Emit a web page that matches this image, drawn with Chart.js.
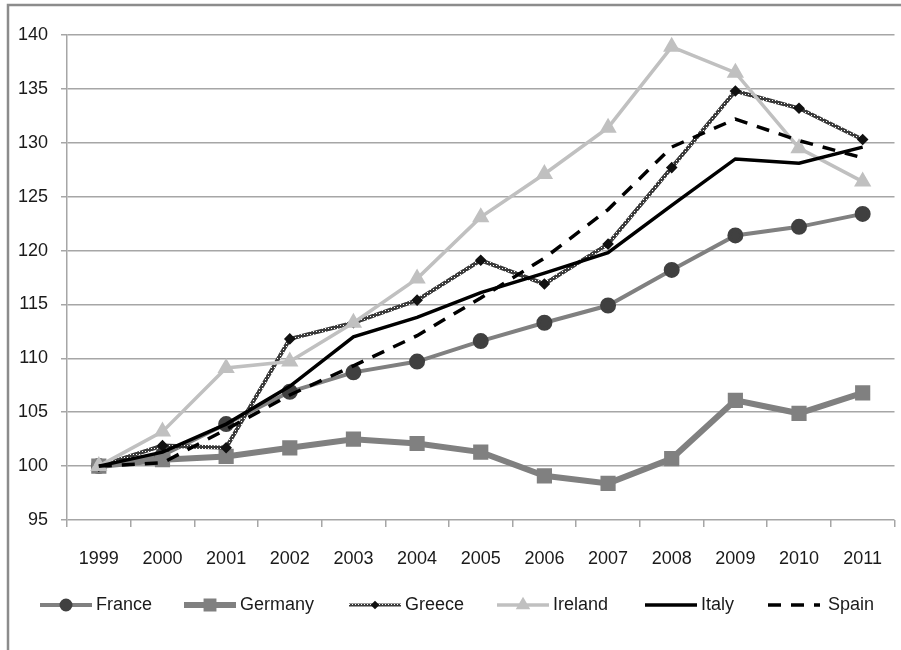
<!DOCTYPE html>
<html>
<head>
<meta charset="utf-8">
<script src="https://cdn.jsdelivr.net/npm/chart.js@4/dist/chart.umd.min.js"></script>
<style>
    html, body { margin: 0; padding: 0; background: #ffffff; overflow: hidden; }
    #wrap { width: 901px; height: 650px; position: relative; overflow: hidden; }
</style>
</head>
<body>
<div id="wrap"><canvas id="gdpChart" width="907" height="650"></canvas></div>
<script>
const years = ['1999', '2000', '2001', '2002', '2003', '2004', '2005', '2006', '2007', '2008', '2009', '2010', '2011'];
const france = [100, 101.0, 103.9, 106.9, 108.7, 109.7, 111.6, 113.3, 114.9, 118.2, 121.4, 122.2, 123.4];
const germany = [100, 100.6, 100.9, 101.7, 102.5, 102.1, 101.3, 99.1, 98.4, 100.7, 106.1, 104.9, 106.8];
const greece = [100, 101.9, 101.7, 111.8, 113.3, 115.4, 119.1, 116.9, 120.6, 127.7, 134.8, 133.2, 130.3];
const ireland = [100, 103.2, 109.1, 109.7, 113.3, 117.4, 123.1, 127.1, 131.4, 138.9, 136.5, 129.5, 126.4];
const italy = [100, 101.3, 103.9, 107.4, 112.0, 113.8, 116.1, 117.9, 119.8, 124.2, 128.5, 128.1, 129.6];
const spain = [100, 100.3, 103.4, 106.6, 109.3, 112.1, 115.6, 119.3, 123.8, 129.6, 132.2, 130.2, 128.6];
const yTicks = { min: 95, max: 140, step: 5 };

const fontFamily = "'Liberation Sans', Arial, sans-serif";
const gridColor = '#a6a6a6';
const legendStarts = [40, 184, 349, 497, 645, 768];

// dotted texture for Greece line
function makeDotPattern() {
    const c = document.createElement('canvas');
    c.width = 3; c.height = 3;
    const g = c.getContext('2d');
    g.fillStyle = '#3a3a3a';
    g.fillRect(0, 0, 3, 3);
    g.fillStyle = '#ffffff';
    g.fillRect(1, 1, 1, 1);
    return g.createPattern(c, 'repeat');
}
const dotPattern = makeDotPattern();

const frame = {
    id: 'frame',
    afterDraw(chart) {
        const ctx = chart.ctx;
        ctx.save();
        ctx.strokeStyle = '#8c8c8c';
        ctx.lineWidth = 2.5;
        ctx.beginPath();
        ctx.moveTo(8, 660);
        ctx.lineTo(8, 5);
        ctx.lineTo(910, 5);
        ctx.stroke();
        ctx.restore();
    }
};

// Excel-style legend: short line with marker, then label
const lineLegend = {
    id: 'lineLegend',
    afterDraw(chart) {
        const ctx = chart.ctx;
        const y = 605;
        ctx.save();
        ctx.font = '18px ' + fontFamily;
        ctx.textBaseline = 'middle';
        chart.data.datasets.forEach((ds, i) => {
            const x = legendStarts[i];
            ctx.save();
            ctx.strokeStyle = ds.borderColor;
            ctx.lineWidth = ds.legendWidth || ds.borderWidth;
            ctx.setLineDash(ds.borderDash || []);
            ctx.beginPath();
            ctx.moveTo(x, y);
            ctx.lineTo(x + 52, y);
            ctx.stroke();
            ctx.setLineDash([]);
            if (ds.pointRadius > 0) {
                ctx.fillStyle = ds.pointBackgroundColor;
                ctx.strokeStyle = ds.pointBorderColor;
                Chart.helpers.drawPoint(ctx, {
                    pointStyle: ds.pointStyle,
                    radius: ds.pointRadius * 0.75,
                    rotation: 0,
                    borderWidth: 1
                }, x + 26, y);
            }
            ctx.restore();
            ctx.fillStyle = '#1a1a1a';
            ctx.fillText(ds.label, x + 56 + (ds.legendGap || 0), y);
        });
        ctx.restore();
    }
};

const ctx = document.getElementById('gdpChart').getContext('2d');
new Chart(ctx, {
    type: 'line',
    data: {
        labels: years,
        datasets: [
            {
                label: 'France', data: france, order: 6,
                borderColor: '#808080', borderWidth: 4,
                pointStyle: 'circle', pointRadius: 6,
                pointBackgroundColor: '#404040', pointBorderColor: '#404040'
            },
            {
                label: 'Germany', data: germany, order: 5,
                borderColor: '#808080', borderWidth: 6,
                pointStyle: 'rect', pointRadius: 6.5,
                pointBackgroundColor: '#808080', pointBorderColor: '#808080'
            },
            {
                label: 'Greece', data: greece, order: 4,
                borderColor: dotPattern, borderWidth: 4, legendWidth: 3,
                pointStyle: 'rectRot', pointRadius: 3,
                pointBackgroundColor: '#111111', pointBorderColor: '#111111'
            },
            {
                label: 'Ireland', data: ireland, order: 3,
                borderColor: '#c0c0c0', borderWidth: 3.5,
                pointStyle: 'triangle', pointRadius: 6.5,
                pointBackgroundColor: '#c0c0c0', pointBorderColor: '#c0c0c0'
            },
            {
                label: 'Italy', data: italy, order: 2,
                borderColor: '#000000', borderWidth: 3.5,
                pointRadius: 0
            },
            {
                label: 'Spain', data: spain, order: 1,
                borderColor: '#000000', borderWidth: 3.5, borderDash: [13, 10],
                pointRadius: 0, legendGap: 4
            }
        ]
    },
    options: {
        responsive: false,
        animation: false,
        devicePixelRatio: 1,
        layout: { padding: { left: 0, right: 7, top: 35, bottom: 80 } },
        elements: { line: { tension: 0 }, point: { borderWidth: 1, hoverRadius: 6 } },
        plugins: {
            legend: { display: false },
            tooltip: { enabled: false }
        },
        scales: {
            x: {
                offset: true,
                grid: {
                    offset: true,
                    drawOnChartArea: false,
                    drawTicks: true,
                    tickLength: 7,
                    color: gridColor,
                    lineWidth: 1.5
                },
                border: { display: false },
                ticks: {
                    color: '#1a1a1a',
                    padding: 21,
                    maxRotation: 0,
                    autoSkip: false,
                    font: { family: fontFamily, size: 18 }
                },
                afterFit(scale) {
                    scale.height = 50;
                    scale.paddingLeft = 0;
                    scale.paddingRight = 0;
                }
            },
            y: {
                min: yTicks.min,
                max: yTicks.max,
                grid: {
                    color: gridColor,
                    lineWidth: 1.5,
                    tickLength: 6
                },
                border: { display: true, color: gridColor, width: 1.5 },
                ticks: {
                    stepSize: yTicks.step,
                    color: '#1a1a1a',
                    padding: 13,
                    font: { family: fontFamily, size: 18 }
                },
                afterFit(scale) { scale.width = 67; }
            }
        }
    },
    plugins: [frame, lineLegend]
});
</script>
</body>
</html>
